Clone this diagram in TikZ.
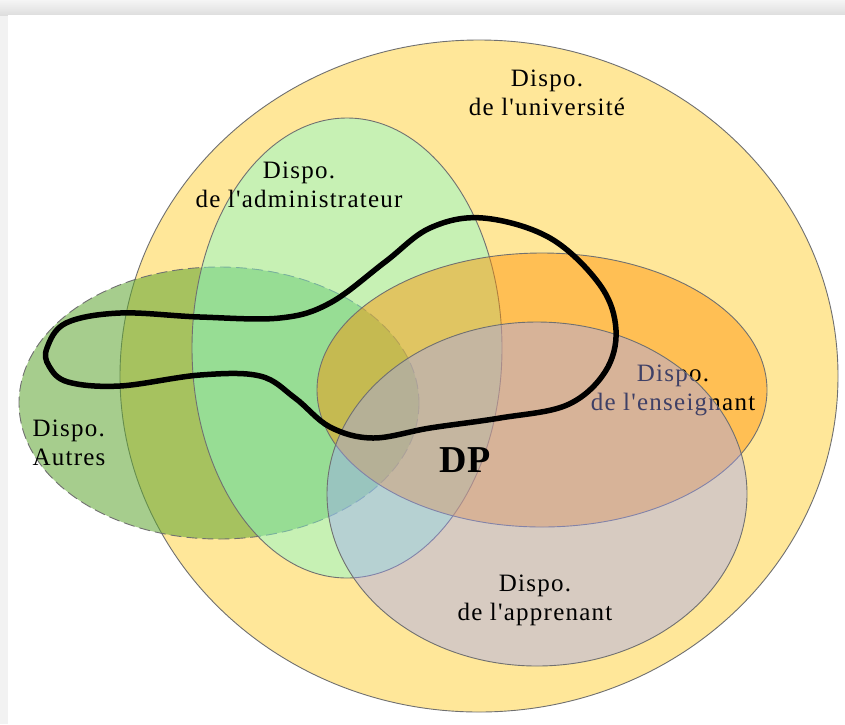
\documentclass[tikz,border=0pt]{standalone}
\usepackage{fontspec}
\setmainfont{Liberation Serif}[Ligatures=TeXOff]
\newfontfamily\labelfont{Liberation Serif}[Ligatures=TeXOff, LetterSpace=5]
\definecolor{univfill}{RGB}{255,231,153}
\definecolor{autrefill}{RGB}{93,165,49}
\definecolor{adminfill}{RGB}{133,255,213}
\definecolor{enseigfill}{RGB}{255,144,0}
\definecolor{apprfill}{RGB}{157,161,255}
\definecolor{setline}{RGB}{112,112,112}
\begin{document}
\begin{tikzpicture}[x=1pt,y=-1pt,
  setshape/.style={line width=0.9pt, draw=setline},
  lbl/.style={align=center, font=\labelfont\fontsize{25}{29}\selectfont, inner sep=0pt},
]
\useasboundingbox (0,0) rectangle (845,724);
% page and card
\fill[black!5] (0,0) rectangle (845,724);
\shade[top color=black!4, bottom color=black!13] (0,0) rectangle (845,15);
\fill[white] (8,15) rectangle (845,724);

% the sets, back to front
\filldraw[setshape, fill=univfill] (479,376) ellipse [x radius=359, y radius=336];
\filldraw[setshape, fill=autrefill, fill opacity=0.55, dash pattern=on 11pt off 5pt]
  (219,403) ellipse [x radius=200, y radius=136];
\filldraw[setshape, fill=adminfill, fill opacity=0.45] (347,348) ellipse [x radius=155, y radius=230];
\filldraw[setshape, fill=enseigfill, fill opacity=0.45] (542,390) ellipse [x radius=225, y radius=137];
\node[lbl] (enseig) at (673,390) {Dispo.\\de l'enseignant};
\filldraw[setshape, fill=apprfill, fill opacity=0.4] (537,494) ellipse [x radius=210, y radius=172];

% labels
\node[lbl] (univ) at (547,93) {Dispo.\\de l'université};
\node[lbl] (admin) at (299,185) {Dispo.\\de l'administrateur};
\node[lbl, align=left] (autres) at (69,443) {Dispo.\\Autres};
\node[lbl] (appr) at (535,600) {Dispo.\\de l'apprenant};
\node[font=\fontsize{38}{40}\selectfont\bfseries, inner sep=0pt] (dp) at (465,460) {DP};

% the DP boundary
\draw[line width=5.5pt, line join=round] plot[smooth cycle, tension=0.6] coordinates {
  (47,348) (66,323) (120,313) (200,317) (280,318) (330,303) (385,262) (430,228)
  (483,218) (550,238) (600,285) (616,330) (605,372) (567,405) (500,418) (430,428)
  (373,438) (330,427) (295,398) (260,376) (200,375) (120,386) (68,382) (49,366)};
\end{tikzpicture}
\end{document}
